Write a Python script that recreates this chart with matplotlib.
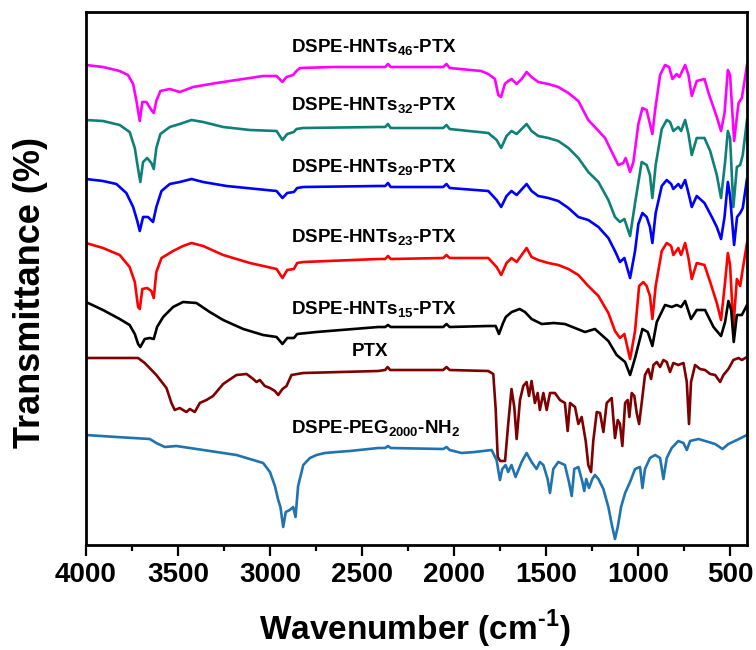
import matplotlib
matplotlib.use("Agg")
import matplotlib.pyplot as plt
from matplotlib.ticker import MultipleLocator

# ============================
# Spectra (wavenumber in cm-1, transmittance in a.u.)
# ============================
hnt46_wn = [4000, 3908, 3817, 3772, 3744, 3726, 3708, 3694, 3672, 3645, 3632, 3618, 3596, 3545, 3491,
            3418, 3291, 3146, 3038, 2965, 2933, 2911, 2875, 2857, 2838, 2657, 2413, 2375, 2360, 2345,
            2060, 2042, 2025, 1854, 1815, 1779, 1761, 1746, 1725, 1707, 1689, 1661, 1634, 1607, 1580,
            1544, 1489, 1435, 1380, 1326, 1272, 1236, 1181, 1136, 1109, 1082, 1069, 1045, 1027, 1000,
            978, 955, 937, 924, 909, 882, 855, 833, 815, 792, 777, 746, 728, 710, 683, 641, 619, 574,
            551, 532, 514, 502, 480, 456, 438, 410]
hnt46_t = [480, 478, 474, 470, 461, 444, 424, 443, 443, 435, 432, 444, 454, 456, 453,
           458, 462, 466, 469, 469, 463, 468, 470, 474, 477, 478, 478, 478, 481, 478,
           478, 481, 477, 474, 471, 466, 450, 448, 461, 464, 466, 461, 466, 473, 468,
           463, 461, 458, 452, 444, 425, 418, 407, 390, 380, 382, 387, 373, 383, 421,
           437, 435, 421, 411, 435, 470, 480, 478, 466, 471, 468, 480, 470, 449, 464, 466, 452, 428,
           414, 432, 475, 470, 404, 442, 447, 480]

hnt32_wn = [4000, 3908, 3817, 3763, 3735, 3717, 3705, 3690, 3668, 3645, 3632, 3618, 3596, 3545, 3491,
            3427, 3364, 3255, 3110, 2965, 2933, 2907, 2871, 2857, 2820, 2413, 2375, 2360, 2345,
            2060, 2042, 2025, 1815, 1770, 1745, 1716, 1689, 1661, 1607, 1580, 1544, 1489, 1435, 1380,
            1326, 1272, 1217, 1163, 1127, 1100, 1076, 1045, 1018, 982, 955, 937, 924, 906, 873, 846,
            828, 810, 783, 768, 746, 728, 710, 683, 641, 610, 574, 551, 529, 514, 502, 484, 465, 447,
            433, 410]
hnt32_t = [425, 424, 420, 413, 397, 376, 363, 383, 387, 382, 376, 397, 411, 418, 421,
           425, 423, 418, 415, 414, 405, 411, 413, 416, 417, 418, 418, 421, 417,
           417, 420, 416, 412, 405, 397, 409, 414, 411, 421, 414, 409, 407, 404, 397,
           387, 373, 363, 345, 328, 323, 326, 309, 342, 383, 380, 370, 347, 380, 416, 425,
           423, 414, 418, 414, 425, 411, 390, 407, 407, 394, 370, 347, 383, 414, 407, 338, 378, 380,
           390, 425]

hnt29_wn = [4000, 3908, 3835, 3781, 3744, 3723, 3708, 3690, 3663, 3636, 3618, 3590, 3545, 3491, 3427,
            3364, 3237, 3074, 2965, 2933, 2907, 2871, 2853, 2820, 2413, 2375, 2360, 2345,
            2060, 2042, 2025, 1815, 1770, 1745, 1716, 1689, 1661, 1607, 1580, 1544, 1489, 1435, 1380,
            1326, 1272, 1217, 1163, 1127, 1100, 1076, 1045, 1018, 1000, 978, 955, 937, 924, 906, 873,
            846, 822, 810, 783, 768, 746, 728, 710, 683, 641, 601, 574, 551, 532, 514, 502, 480, 464,
            447, 433, 410]
hnt29_t = [366, 364, 361, 352, 338, 325, 314, 328, 328, 323, 338, 354, 361, 363, 366,
           363, 359, 356, 354, 347, 352, 353, 357, 358, 359, 359, 362, 358,
           358, 361, 357, 354, 345, 338, 349, 354, 350, 361, 354, 349, 347, 344, 337,
           328, 325, 318, 307, 294, 283, 287, 267, 294, 321, 332, 328, 318, 302, 332, 359,
           365, 361, 356, 361, 357, 365, 352, 338, 349, 342, 328, 318, 306, 328, 363, 349, 300, 328,
           332, 337, 366]

hnt23_wn = [4000, 3908, 3817, 3763, 3735, 3717, 3708, 3694, 3668, 3645, 3632, 3618, 3590, 3527, 3473,
            3427, 3364, 3255, 3110, 2965, 2933, 2907, 2871, 2853, 2820, 2413, 2375, 2360, 2345,
            2060, 2042, 2025, 1815, 1770, 1745, 1716, 1689, 1661, 1607, 1580, 1544, 1489, 1435, 1380,
            1326, 1272, 1217, 1163, 1127, 1100, 1076, 1045, 1018, 996, 973, 955, 937, 924, 906, 873,
            846, 822, 810, 783, 768, 746, 728, 710, 683, 641, 610, 574, 551, 529, 514, 502, 484, 465,
            447, 433, 410]
hnt23_t = [302, 297, 290, 278, 263, 238, 236, 256, 257, 254, 247, 273, 287, 294, 299,
           302, 299, 290, 282, 276, 267, 275, 276, 282, 283, 286, 286, 289, 286,
           287, 290, 287, 287, 278, 270, 282, 287, 283, 297, 288, 285, 282, 280, 276,
           270, 259, 249, 232, 214, 207, 211, 186, 214, 259, 263, 259, 249, 226, 259, 294,
           302, 299, 290, 297, 290, 302, 287, 266, 282, 280, 263, 242, 225, 263, 292, 280, 218, 266,
           259, 276, 302]

hnt15_wn = [4000, 3908, 3817, 3763, 3735, 3717, 3705, 3681, 3654, 3632, 3614, 3581, 3527, 3473, 3400,
            3328, 3255, 3146, 3038, 2965, 2933, 2907, 2871, 2853, 2748, 2413, 2375, 2360, 2345,
            2060, 2042, 2025, 1815, 1775, 1757, 1735, 1720, 1688, 1645, 1616, 1580, 1525, 1459, 1399,
            1290, 1236, 1163, 1118, 1072, 1045, 1018, 978, 949, 924, 900, 855, 819, 792, 768, 746,
            714, 683, 638, 592, 551, 529, 511, 496, 482, 465, 438, 410]
hnt15_t = [243, 235, 226, 220, 211, 201, 198, 206, 207, 206, 218, 228, 238, 243, 242,
           233, 225, 216, 210, 208, 201, 207, 207, 211, 213, 218, 218, 220, 218,
           218, 221, 218, 219, 219, 211, 222, 228, 233, 236, 233, 226, 221, 222, 221,
           213, 216, 204, 190, 183, 170, 187, 216, 213, 199, 223, 240, 238, 240, 238, 244,
           226, 235, 235, 218, 209, 223, 244, 235, 203, 230, 230, 240]

ptx_wn = [4000, 3835, 3717, 3681, 3618, 3563, 3536, 3518, 3491, 3455, 3436, 3409, 3382, 3346, 3310,
          3255, 3183, 3128, 3092, 3074, 3056, 3029, 3001, 2974, 2956, 2933, 2911, 2884, 2820, 2413,
          2375, 2362, 2348, 2060, 2042, 2025, 1815, 1788, 1775, 1764, 1750, 1724, 1707, 1689, 1674,
          1661, 1643, 1625, 1607, 1594, 1580, 1562, 1547, 1535, 1516, 1498, 1480, 1453, 1426, 1399,
          1384, 1371, 1344, 1326, 1308, 1286, 1272, 1257, 1245, 1226, 1208, 1190, 1172, 1145, 1127,
          1112, 1100, 1087, 1072, 1058, 1049, 1036, 1022, 1009, 996, 982, 964, 946, 931, 918, 900,
          882, 864, 846, 828, 810, 783, 755, 737, 725, 714, 692, 665, 638, 610, 583, 556, 538, 511,
          484, 456, 438, 410]
ptx_t = [187, 187, 187, 182, 170, 157, 142, 135, 137, 133, 136, 133, 142, 145, 149,
         161, 170, 171, 166, 163, 165, 159, 157, 154, 150, 156, 159, 170, 172, 174,
         175, 178, 175, 175, 178, 175, 174, 171, 136, 88, 84, 84, 121, 156, 138,
         106, 145, 159, 163, 149, 164, 142, 152, 135, 152, 135, 152, 152, 145, 142,
         114, 142, 138, 121, 128, 104, 80, 73, 104, 133, 132, 113, 142, 147, 107,
         125, 121, 99, 142, 145, 128, 152, 149, 132, 121, 142, 170, 176, 166, 180, 183,
         178, 185, 183, 173, 182, 180, 182, 163, 121, 163, 180, 176, 175, 171, 170, 163, 170, 176,
         185, 187, 185, 188]

peg_wn = [4000, 3835, 3654, 3618, 3572, 3509, 3400, 3291, 3183, 3092, 3038, 3001, 2974, 2956, 2944,
          2929, 2915, 2893, 2875, 2862, 2848, 2820, 2784, 2748, 2703, 2639, 2567, 2413, 2375, 2360,
          2345, 2060, 2042, 2025, 1960, 1888, 1797, 1770, 1752, 1739, 1721, 1707, 1689, 1667, 1634,
          1607, 1580, 1553, 1535, 1516, 1493, 1480, 1462, 1435, 1399, 1377, 1362, 1348, 1326, 1304,
          1294, 1283, 1268, 1250, 1236, 1217, 1190, 1163, 1145, 1127, 1112, 1094, 1072, 1045, 1018,
          991, 978, 964, 937, 909, 882, 864, 846, 819, 783, 755, 737, 719, 674, 619, 583, 543, 511,
          465, 410]
peg_t = [110, 108, 106, 102, 98, 99, 96, 93, 90, 85, 82, 73, 59, 45, 38,
         18, 33, 35, 38, 28, 59, 80, 87, 90, 92, 93, 94, 97, 97, 99,
         97, 96, 98, 95, 92, 93, 95, 85, 65, 76, 80, 73, 80, 68, 83,
         92, 83, 76, 83, 80, 66, 52, 76, 83, 80, 63, 49, 76, 78, 63,
         54, 66, 57, 66, 70, 66, 56, 38, 21, 6, 18, 38, 52, 63, 76,
         78, 57, 76, 87, 90, 87, 66, 87, 97, 104, 102, 95, 104, 106, 103, 101, 96, 101,
         105, 110]

series = [
    (hnt46_wn, hnt46_t, "#ff00ff"),
    (hnt32_wn, hnt32_t, "#0f8078"),
    (hnt29_wn, hnt29_t, "#0000ff"),
    (hnt23_wn, hnt23_t, "#ff0000"),
    (hnt15_wn, hnt15_t, "#000000"),
    (ptx_wn, ptx_t, "#7f0000"),
    (peg_wn, peg_t, "#1f73b0"),
]

# label text, wavenumber anchor, height (baseline), alignment
labels = [
    (r"DSPE-HNTs$_\mathregular{46}$-PTX", 2885, 492, "left"),
    (r"DSPE-HNTs$_\mathregular{32}$-PTX", 2885, 434, "left"),
    (r"DSPE-HNTs$_\mathregular{29}$-PTX", 2885, 372, "left"),
    (r"DSPE-HNTs$_\mathregular{23}$-PTX", 2885, 302, "left"),
    (r"DSPE-HNTs$_\mathregular{15}$-PTX", 2885, 230, "left"),
    ("PTX", 2455, 189, "center"),
    (r"DSPE-PEG$_\mathregular{2000}$-NH$_\mathregular{2}$", 2885, 111, "left"),
]

# =======================
# Plotting
# =======================
plt.rcParams['font.family'] = ['Liberation Sans', 'DejaVu Sans']
plt.rcParams['font.weight'] = 'bold'

fig = plt.figure(figsize=(7.56, 6.5), dpi=100)
ax = fig.add_axes([86 / 756, 1 - 545 / 650, 661 / 756, 533 / 650])

for wn, t, col in series:
    ax.plot(wn, t, color=col, lw=1.9, solid_joinstyle='round')

for txt, xw, yv, ha in labels:
    ax.text(xw, yv, txt, ha=ha, va='baseline', fontsize=13.5, fontweight='bold')

ax.set_xlim(4000, 410)
ax.set_ylim(0, 533)
ax.set_yticks([])
ax.xaxis.set_major_locator(MultipleLocator(500))
ax.xaxis.set_minor_locator(MultipleLocator(250))
ax.tick_params(axis='x', which='major', direction='out', length=8, width=1.6,
               labelsize=20, pad=4)
ax.tick_params(axis='x', which='minor', direction='out', length=4.5, width=1.6)
for lab in ax.get_xticklabels():
    lab.set_fontweight('bold')
for sp in ax.spines.values():
    sp.set_linewidth(2.0)

fig.text(0.549, 1 - 640 / 650, "Wavenumber (cm$^\\mathregular{\u20101}$)", ha='center',
         va='baseline', fontsize=24, fontweight='bold')
fig.text(31 / 756, 1 - 292 / 650, "Transmittance (%)", rotation=90, ha='center',
         va='center', fontsize=26, fontweight='bold')

fig.savefig("out.png", dpi=100)
plt.close()
